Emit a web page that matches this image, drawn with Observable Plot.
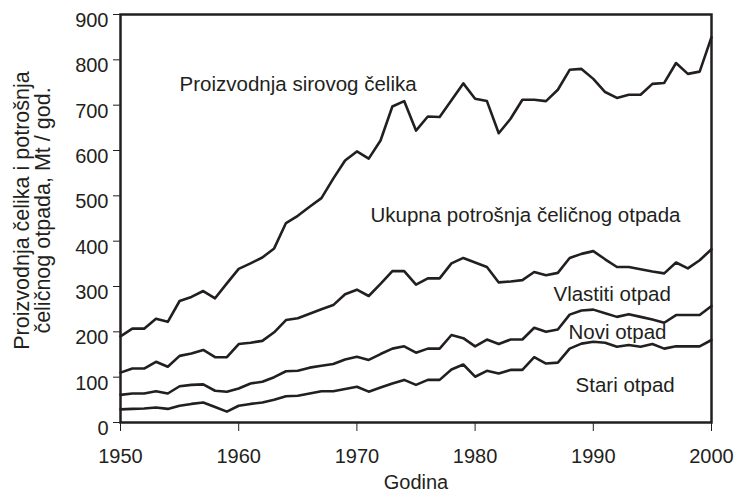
<!DOCTYPE html>
<html><head><meta charset="utf-8">
<script src="https://cdn.jsdelivr.net/npm/d3@7"></script>
<script src="https://cdn.jsdelivr.net/npm/@observablehq/plot@0.6"></script>
<style>body{margin:0;background:#fff} svg{display:block}</style>
</head><body><div id="chart"></div>
<script>
const years = [1950,1951,1952,1953,1954,1955,1956,1957,1958,1959,1960,1961,1962,1963,1964,1965,1966,1967,1968,1969,1970,1971,1972,1973,1974,1975,1976,1977,1978,1979,1980,1981,1982,1983,1984,1985,1986,1987,1988,1989,1990,1991,1992,1993,1994,1995,1996,1997,1998,1999,2000];

// Proizvodnja sirovog čelika
const production = [190,207,207,229,222,268,277,290,274,307,339,351,364,384,440,456,476,495,538,578,598,582,622,697,709,644,675,674,711,748,714,709,638,670,712,712,709,734,778,780,758,729,716,723,723,747,749,793,769,774,850];
// Ukupna potrošnja čeličnog otpada
const totalScrap = [110,119,119,134,123,147,152,160,144,144,173,176,180,199,226,230,240,250,259,283,293,279,306,334,334,304,318,318,351,363,353,343,309,311,314,332,325,330,363,372,378,360,343,343,338,333,329,353,340,358,382];
// granica Vlastiti / Novi otpad
const homeLine = [61,64,64,69,64,80,83,84,70,68,75,86,90,100,113,114,121,125,129,139,145,138,151,163,168,154,163,163,193,186,168,183,173,183,183,209,200,205,238,247,249,241,233,239,233,227,220,237,237,237,257];
// granica Novi / Stari otpad
const oldLine = [29,30,31,33,30,37,41,44,34,24,37,41,44,50,58,59,64,69,69,74,79,68,77,86,94,83,94,94,117,128,101,114,108,116,116,144,130,132,163,174,178,176,167,171,167,173,163,168,168,168,182];

const yTicks = [0,100,200,300,400,500,600,700,800,900];
const xTicks = [1950,1960,1970,1980,1990,2000];

const seriesNames = ["Proizvodnja", "Ukupno", "Vlastiti", "Stari"];
const seriesValues = [production, totalScrap, homeLine, oldLine];

const labelTexts = ["Proizvodnja sirovog čelika", "Ukupna potrošnja čeličnog otpada", "Vlastiti otpad", "Novi otpad", "Stari otpad"];
const labelYears = [1955.0, 1971.15, 1986.63, 1987.9, 1988.5];
const labelValues = [746, 456, 282, 198, 81];

const xTitle = "Godina";
const yTitle = "Proizvodnja čelika i potrošnja\nčeličnog otpada, Mt / god.";

const rows = [];
seriesNames.forEach((s, i) => years.forEach((yr, j) => rows.push({series: s, year: yr, value: seriesValues[i][j]})));
const labels = labelTexts.map((t, i) => ({text: t, year: labelYears[i], value: labelValues[i]}));

const ink = "#231f20";
const font = "'Liberation Sans', Arial, sans-serif";

const chart = Plot.plot({
  width: 738, height: 497,
  marginLeft: 120, marginRight: 27, marginTop: 14, marginBottom: 75,
  style: {fontFamily: font, fontSize: "20px", color: ink, background: "#fff"},
  x: {domain: [1950, 2000]},
  y: {domain: [0, 900]},
  marks: [
    Plot.axisY(yTicks, {tickSize: 7, tickFormat: () => "", label: null, stroke: ink}),
    Plot.axisY(yTicks, {tickSize: 0, tickPadding: 12, dy: 6, fontSize: 20, label: null, fill: ink}),
    Plot.axisX(xTicks, {tickSize: 9, tickPadding: 17, fontSize: 20, label: null, tickFormat: d => String(d), stroke: ink}),
    Plot.frame({stroke: ink, strokeWidth: 2.5}),
    Plot.line(rows, {x: "year", y: "value", z: "series", stroke: ink, strokeWidth: 2.6}),
    Plot.text(labels, {x: "year", y: "value", text: "text", textAnchor: "start", fontSize: 20.5, fill: ink}),
    Plot.text([xTitle], {frameAnchor: "bottom", dy: 66, fontSize: 20, fill: ink}),
    Plot.text([yTitle], {frameAnchor: "left", textAnchor: "middle", rotate: -90, dx: -87.5, dy: -8, fontSize: 21.5, lineHeight: 0.98, fill: ink})
  ]
});
document.getElementById("chart").appendChild(chart);
</script>
</body></html>
